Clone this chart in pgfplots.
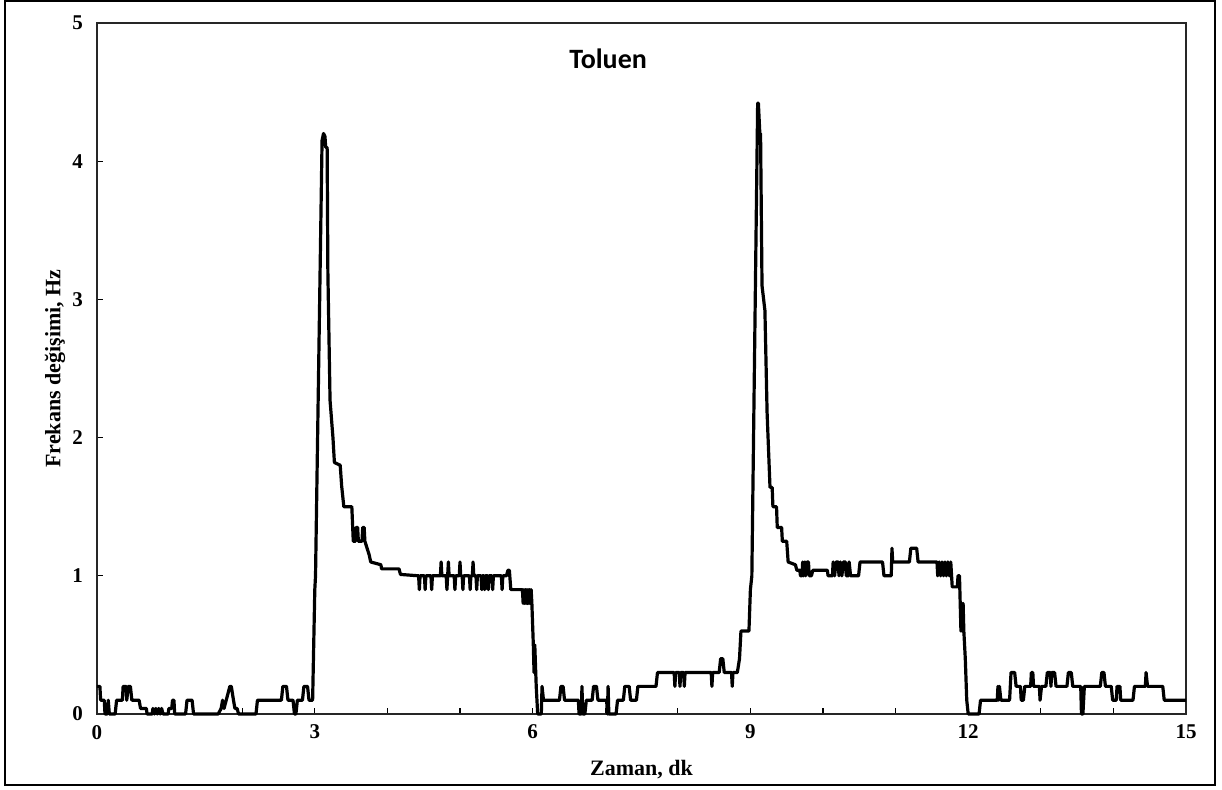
\documentclass[border=0pt]{standalone}
\usepackage{pgfplots}
\pgfplotsset{compat=1.18}
\usepackage{pgfplotstable}
\usepackage{fontspec}
\setmainfont{Liberation Serif}
\newfontfamily\titlefont{Carlito}

\pgfplotstableread{
x y
0.00 0.2
0.04 0.2
0.05 0.1
0.10 0.1
0.11 0.0
0.14 0.0
0.155 0.1
0.17 0.0
0.25 0.0
0.27 0.1
0.35 0.1
0.36 0.2
0.40 0.2
0.41 0.1
0.43 0.2
0.46 0.2
0.48 0.1
0.58 0.1
0.60 0.04
0.68 0.04
0.69 0.0
0.76 0.0
0.77 0.04
0.79 0.0
0.81 0.04
0.83 0.0
0.85 0.04
0.87 0.0
0.89 0.04
0.91 0.0
0.98 0.0
0.99 0.04
1.03 0.04
1.04 0.1
1.06 0.1
1.07 0.0
1.22 0.0
1.24 0.1
1.31 0.1
1.33 0.0
1.67 0.0
1.71 0.04
1.73 0.1
1.75 0.04
1.78 0.1
1.83 0.2
1.85 0.2
1.88 0.1
1.90 0.04
1.93 0.04
1.95 0.0
2.19 0.0
2.21 0.1
2.54 0.1
2.56 0.2
2.61 0.2
2.63 0.1
2.70 0.1
2.72 0.0
2.74 0.0
2.76 0.1
2.83 0.1
2.85 0.2
2.90 0.2
2.92 0.1
2.97 0.1
3.00 0.9
3.01 1.0
3.10 4.15
3.12 4.2
3.14 4.18
3.15 4.1
3.17 4.1
3.18 3.2
3.21 2.27
3.25 2.0
3.27 1.82
3.35 1.80
3.37 1.65
3.40 1.50
3.51 1.50
3.53 1.25
3.56 1.25
3.57 1.35
3.59 1.35
3.60 1.25
3.65 1.25
3.66 1.35
3.68 1.35
3.69 1.25
3.72 1.2
3.75 1.15
3.77 1.1
3.91 1.08
3.92 1.05
4.16 1.05
4.18 1.01
4.43 1.0
4.44 0.9
4.45 1.0
4.51 1.0
4.52 0.9
4.53 1.0
4.60 1.0
4.61 0.9
4.62 1.0
4.73 1.0
4.74 1.1
4.75 1.0
4.81 1.0
4.82 0.9
4.83 1.0
4.84 1.1
4.85 1.0
4.92 1.0
4.93 0.9
4.94 1.0
4.99 1.0
5.00 1.1
5.01 1.0
5.03 1.0
5.04 0.9
5.05 1.0
5.13 1.0
5.14 0.9
5.15 1.0
5.17 1.0
5.18 1.1
5.19 1.0
5.22 1.0
5.23 0.9
5.24 1.0
5.29 1.0
5.30 0.9
5.31 1.0
5.33 1.0
5.34 0.9
5.35 1.0
5.38 1.0
5.39 0.9
5.40 1.0
5.44 1.0
5.45 0.9
5.46 1.0
5.57 1.0
5.58 0.9
5.59 1.0
5.64 1.0
5.66 1.04
5.68 1.04
5.70 0.9
5.86 0.9
5.87 0.8
5.88 0.9
5.89 0.8
5.90 0.9
5.91 0.8
5.92 0.9
5.93 0.8
5.94 0.9
5.95 0.8
5.96 0.9
5.97 0.8
5.98 0.9
5.99 0.8
6.01 0.5
6.02 0.3
6.03 0.5
6.05 0.2
6.07 0.0
6.12 0.0
6.13 0.2
6.15 0.1
6.37 0.1
6.39 0.2
6.42 0.2
6.44 0.1
6.63 0.1
6.64 0.0
6.67 0.0
6.68 0.2
6.69 0.0
6.72 0.0
6.74 0.1
6.82 0.1
6.84 0.2
6.88 0.2
6.90 0.1
7.02 0.1
7.03 0.0
7.04 0.2
7.05 0.0
7.15 0.0
7.17 0.1
7.25 0.1
7.27 0.2
7.33 0.2
7.35 0.1
7.43 0.1
7.45 0.2
7.70 0.2
7.72 0.3
7.95 0.3
7.96 0.2
7.97 0.3
8.02 0.3
8.03 0.2
8.04 0.3
8.08 0.3
8.09 0.2
8.10 0.3
8.46 0.3
8.47 0.2
8.48 0.3
8.57 0.3
8.59 0.4
8.62 0.4
8.64 0.3
8.74 0.3
8.75 0.2
8.76 0.3
8.82 0.3
8.85 0.4
8.87 0.6
8.98 0.6
9.00 0.9
9.02 1.0
9.10 4.42
9.11 4.42
9.13 4.2
9.14 4.2
9.16 3.1
9.20 2.92
9.23 2.18
9.27 1.64
9.30 1.64
9.31 1.5
9.36 1.5
9.37 1.35
9.43 1.35
9.44 1.25
9.50 1.25
9.52 1.1
9.62 1.08
9.64 1.04
9.68 1.04
9.69 1.0
9.71 1.0
9.72 1.1
9.73 1.0
9.75 1.1
9.76 1.0
9.78 1.1
9.80 1.1
9.81 1.0
9.84 1.0
9.86 1.04
10.06 1.04
10.07 1.0
10.13 1.0
10.14 1.1
10.16 1.0
10.18 1.1
10.21 1.1
10.22 1.0
10.24 1.1
10.26 1.0
10.28 1.1
10.31 1.1
10.32 1.0
10.35 1.0
10.36 1.1
10.38 1.0
10.49 1.0
10.51 1.1
10.82 1.1
10.84 1.0
10.94 1.0
10.95 1.2
10.96 1.1
11.19 1.1
11.21 1.2
11.29 1.2
11.31 1.1
11.57 1.1
11.58 1.0
11.60 1.1
11.62 1.0
11.64 1.1
11.66 1.0
11.68 1.1
11.70 1.0
11.72 1.1
11.74 1.0
11.76 1.1
11.78 0.92
11.85 0.92
11.86 1.0
11.88 1.0
11.89 0.8
11.90 0.6
11.91 0.8
11.92 0.6
11.93 0.8
11.94 0.6
11.96 0.4
11.98 0.1
12.00 0.0
12.15 0.0
12.17 0.1
12.40 0.1
12.41 0.2
12.42 0.1
12.43 0.2
12.45 0.1
12.57 0.1
12.59 0.3
12.64 0.3
12.66 0.2
12.72 0.2
12.73 0.1
12.76 0.1
12.78 0.2
12.86 0.2
12.87 0.3
12.89 0.3
12.90 0.2
12.98 0.2
12.99 0.1
13.01 0.2
13.07 0.2
13.09 0.3
13.13 0.3
13.14 0.2
13.15 0.3
13.19 0.3
13.21 0.2
13.36 0.2
13.38 0.3
13.42 0.3
13.44 0.2
13.55 0.2
13.56 0.0
13.58 0.0
13.60 0.2
13.82 0.2
13.84 0.3
13.87 0.3
13.89 0.2
13.97 0.2
13.99 0.1
14.04 0.1
14.05 0.2
14.09 0.2
14.10 0.1
14.27 0.1
14.29 0.2
14.44 0.2
14.45 0.3
14.47 0.2
14.68 0.2
14.70 0.1
15.00 0.1
}\datatable

\begin{document}
\begin{tikzpicture}
\begin{axis}[
  scale only axis, width=544.5pt, height=345.5pt,
  at={(0,0)}, anchor=south west,
  xmin=0, xmax=15, ymin=0, ymax=5,
  xtick={0,3,6,9,12,15}, ytick={0,1,2,3,4,5},
  minor xtick={1,2,4,5,7,8,10,11,13,14},
  tick align=inside, xtick pos=bottom, ytick pos=left,
  major tick length=3pt, minor tick length=3pt,
  axis line style={line width=0.75pt, black!85},
  tick style={black, line width=0.6pt},
  ticklabel style={font=\fontsize{10.5}{12}\selectfont\bfseries},
  /pgf/number format/assume math mode=true,
  xticklabel shift=2pt, yticklabel shift=3.5pt,
  xlabel={Zaman, dk}, ylabel={Frekans değişimi, Hz},
  label style={font=\fontsize{11}{13}\selectfont\bfseries},
  xlabel style={at={(axis description cs:0.5,-0.08)}, anchor=center},
  ylabel style={at={(axis description cs:-0.0386,0.5)}, anchor=center},
  clip=false,
]
\addplot[black, line width=1.6pt, line join=round, mark=none] table[x=x, y=y] {\datatable};
\node[font=\titlefont\fontsize{14}{16}\selectfont\bfseries] at (axis cs:7.04,4.74) {Toluen};
\end{axis}
\draw[line width=1pt] (-46pt,-35.5pt) rectangle (559pt,356.5pt);
\path (-48.5pt,-37.5pt) rectangle (562.5pt,357pt);
\end{tikzpicture}
\end{document}
